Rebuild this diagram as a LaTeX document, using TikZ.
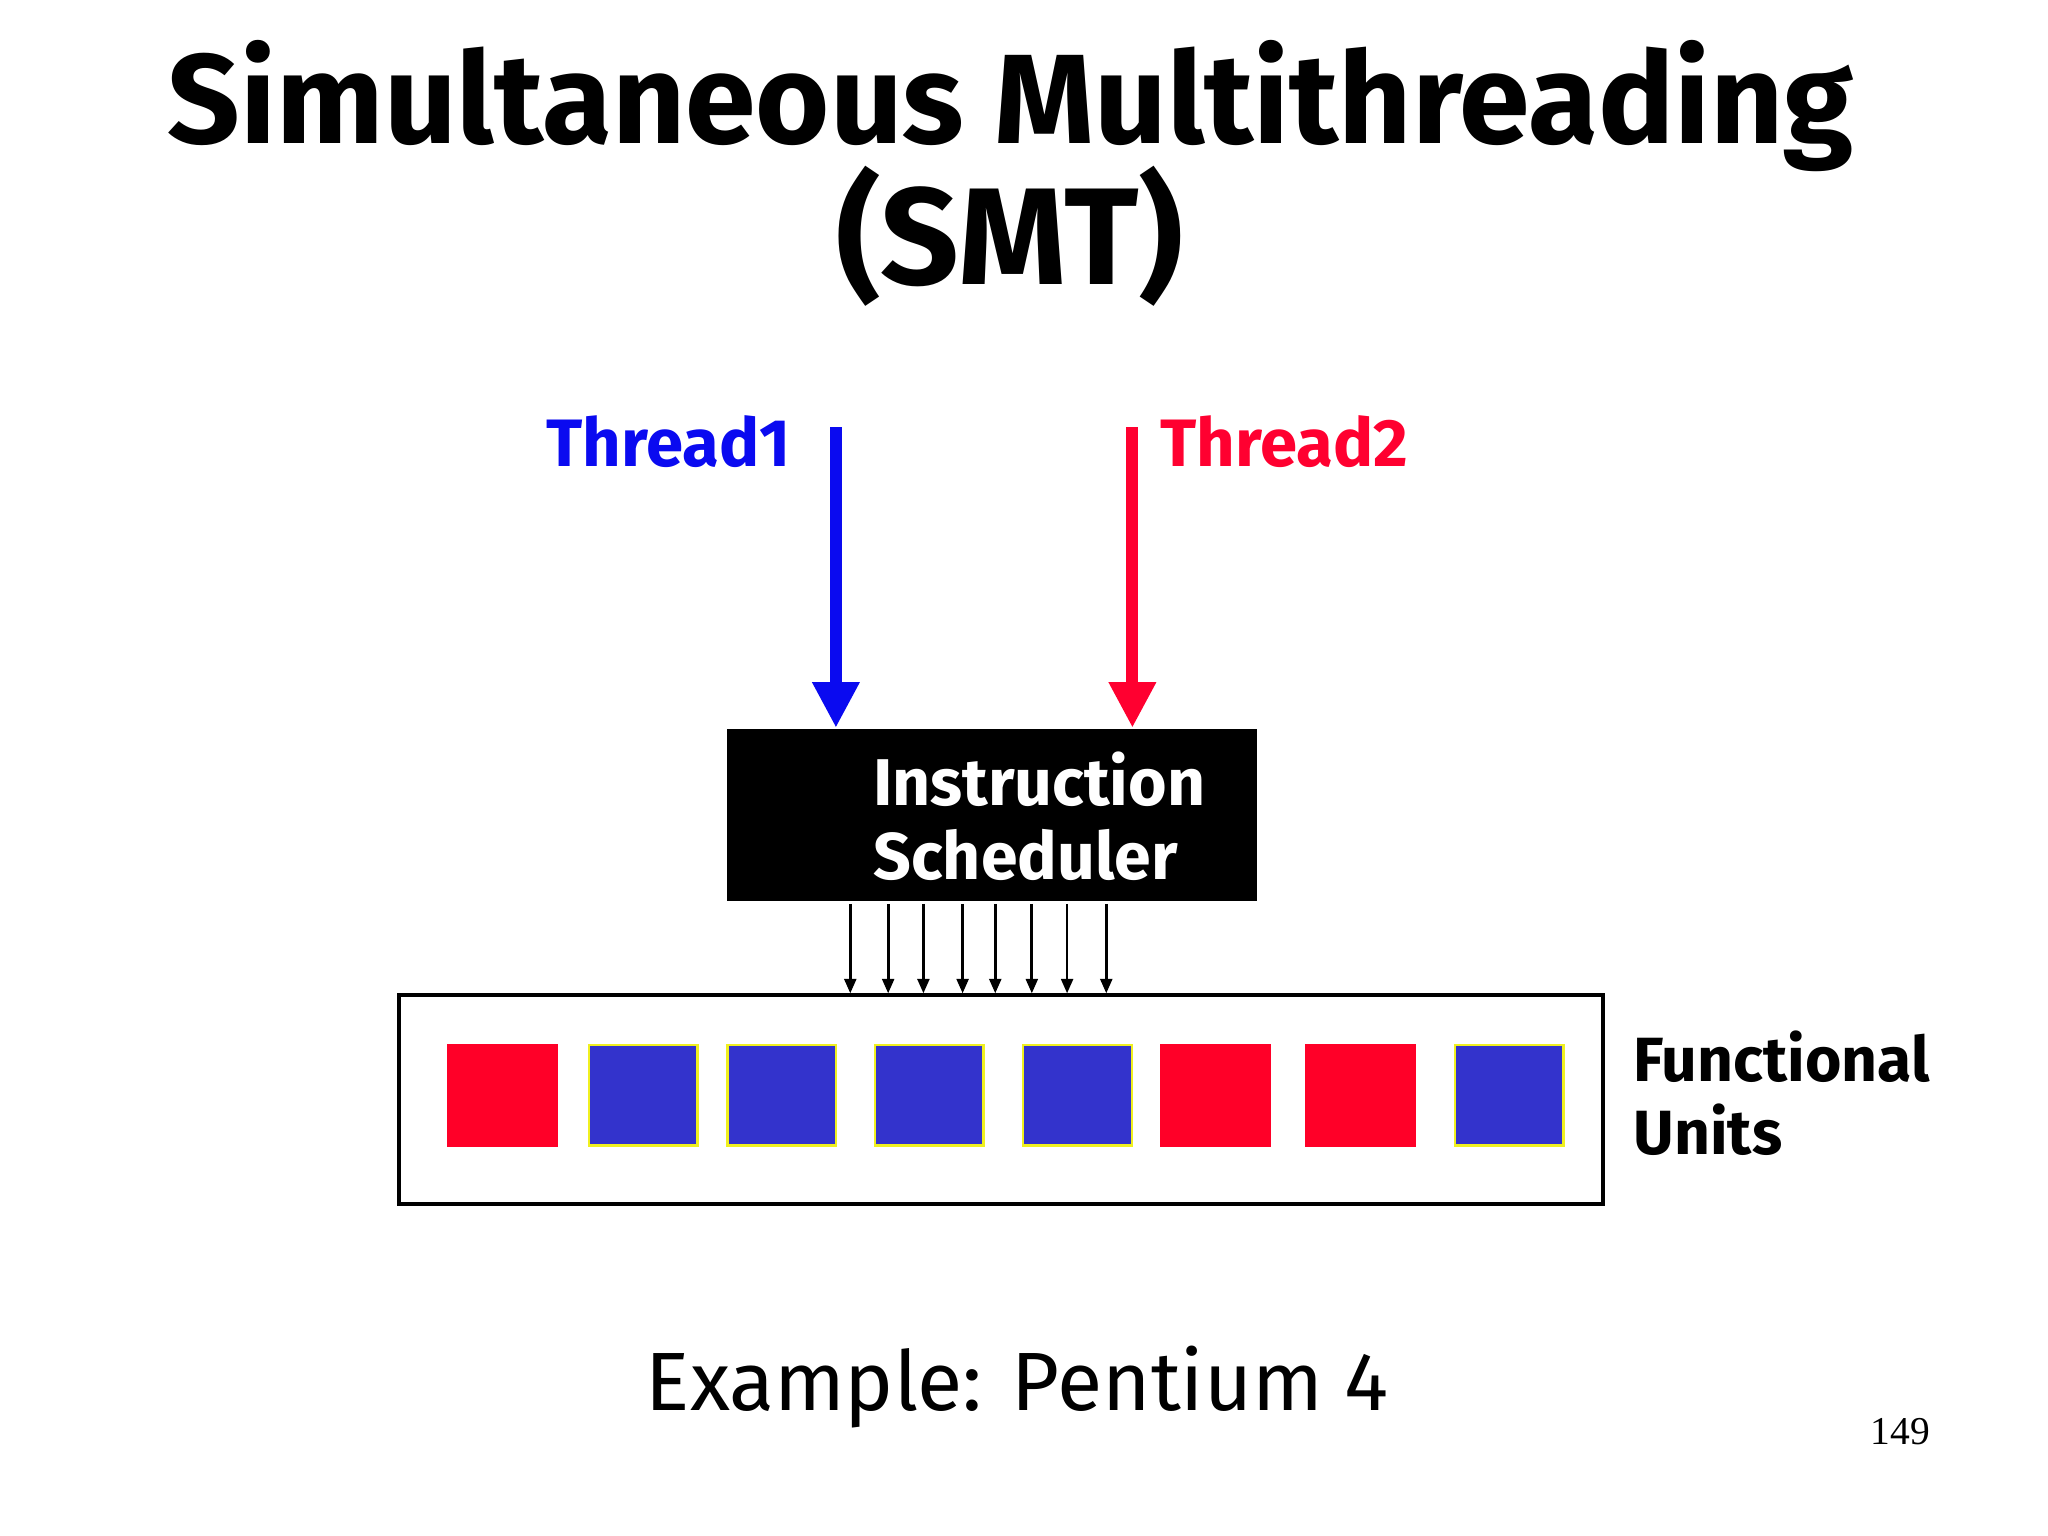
\documentclass[tikz,border=0pt]{standalone}
\usepackage{fontspec}
\setmainfont{Fira Sans}
\newfontfamily\numfont{Liberation Serif}
\usetikzlibrary{arrows.meta}
\definecolor{tblue}{HTML}{0A0AF0}
\definecolor{tred}{HTML}{FF0030}
\definecolor{fured}{HTML}{FF0028}
\definecolor{fublue}{HTML}{3333CC}
\definecolor{fuyellow}{HTML}{F0F020}
\tikzset{
  px/.style={x=0.01cm,y=-0.01cm},
  bigarrow/.style={line width=2.6pt,-{Triangle[width=0.34cm,length=0.35cm]}},
  smallarrow/.style={line width=0.6pt,-{Triangle[width=0.09cm,length=0.11cm]}},
  redunit/.style={fill=fured,draw=none,inner sep=0pt,minimum width=0.85cm,minimum height=0.79cm},
  blueunit/.style={fill=fublue,draw=fuyellow,line width=0.5pt,inner sep=0pt,minimum width=0.83cm,minimum height=0.77cm},
  lbl/.style={inner sep=0pt,font=\fontsize{14.4}{17}\selectfont\bfseries},
}
\begin{document}
\begin{tikzpicture}[px]
\useasboundingbox[fill=white] (0,0) rectangle (1568,1176);
% title
\node[inner sep=0pt,anchor=base,font=\fontsize{27.7}{33}\selectfont\bfseries] (title1) at (774,110) {Simultaneous Multithreading};
\node[inner sep=0pt,anchor=base,font=\fontsize{30}{36}\selectfont\bfseries] (title2) at (773,218) {(SMT)};
% thread labels
\node[lbl,font=\fontsize{14.6}{17}\selectfont\bfseries,text=tblue,anchor=base east] (th1) at (606,357) {Thread1};
\node[lbl,font=\fontsize{14.6}{17}\selectfont\bfseries,text=tred,anchor=base west] (th2) at (888,357) {Thread2};
\coordinate (t1top) at (640,327);
\coordinate (t2top) at (867,327);
% scheduler
\node[fill=black,inner sep=0pt,minimum width=4.05cm,minimum height=1.32cm] (sched) at (759.5,624) {};
\node[lbl,text=white,anchor=base west] (sched1) at (668,617) {Instruction};
\node[lbl,text=white,anchor=base west] (sched2) at (668,673) {Scheduler};
\draw[bigarrow,draw=tblue,fill=tblue] (t1top) -- (sched.north -| t1top);
\draw[bigarrow,draw=tred,fill=tred] (t2top) -- (sched.north -| t2top);
% functional units box
\node[draw=black,line width=0.8pt,inner sep=0pt,minimum width=9.21cm,minimum height=1.60cm] (fubox) at (766.5,842) {};
\foreach \x [count=\i] in {651,680,707,737,762,790,817,847} {
  \coordinate (a\i) at (\x,692);
  \draw[smallarrow] (a\i) -- (fubox.north -| a\i);
}
\node[redunit] (u1) at (384.5,838.5) {};
\node[blueunit] (u2) at (492.5,838.5) {};
\node[blueunit] (u3) at (598.5,838.5) {};
\node[blueunit] (u4) at (711.5,838.5) {};
\node[blueunit] (u5) at (825,838.5) {};
\node[redunit] (u6) at (930.5,838.5) {};
\node[redunit] (u7) at (1041.5,838.5) {};
\node[blueunit] (u8) at (1155.5,838.5) {};
\node[lbl,font=\fontsize{13.6}{16}\selectfont\bfseries,anchor=base west] (fu1) at (1250,828) {Functional};
\node[lbl,font=\fontsize{13.6}{16}\selectfont\bfseries,anchor=base west] (fu2) at (1250,884) {Units};
% example
\node[inner sep=0pt,anchor=base,font=\fontsize{18}{22}\selectfont] (ex) at (779,1080) {Example: Pentium 4};
\node[inner sep=0pt,anchor=base,font=\numfont\fontsize{8.6}{10}\selectfont] (pg) at (1455,1106) {149};
\end{tikzpicture}
\end{document}
